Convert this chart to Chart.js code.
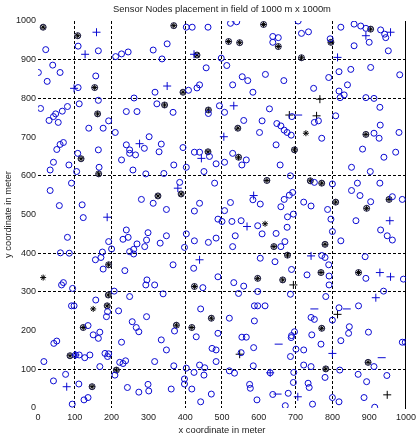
<!DOCTYPE html>
<html><head><meta charset="utf-8">
<script src="https://cdn.jsdelivr.net/npm/chart.js@4"></script>
<style>html,body{margin:0;padding:0;background:#fff}canvas{display:block}</style>
</head><body>
<canvas id="c" width="420" height="440"></canvas>
<script>
const titleText = 'Sensor Nodes placement in field of 1000 m x 1000m';
const xLabel = 'x coordinate in meter';
const yLabel = 'y coordinate in meter';
const axisMin = 0, axisMax = 1000, tickStep = 100;
const visibleGridX = [100, 200, 400, 500, 700, 800];
const visibleGridY = [100, 300, 400, 600, 800, 900];

const blueCircles = [
[403,984],[419,984],[462,984],[21,926],[109,935],[164,923],[211,908],[227,915],[245,920],[313,925],[351,941],[337,902],[40,886],[1,867],[60,867],[25,844],[157,858],[457,879],[109,828],[318,816],[409,821],[432,827],[439,835],[261,801],[7,774],[112,786],[164,795],[323,786],[367,764],[463,761],[80,779],[66,767],[48,760],[42,753],[30,743],[55,738],[240,766],[269,766],[192,742],[177,723],[138,723],[210,712],[302,701],[289,671],[335,682],[329,662],[69,686],[60,681],[51,668],[240,680],[249,667],[394,673],[108,658],[164,667],[425,661],[439,661],
[42,635],[84,628],[33,615],[105,611],[166,622],[227,641],[249,658],[265,654],[258,615],[293,605],[342,606],[369,628],[403,622],[466,650],[451,611],[484,631],[91,581],[33,562],[385,583],[480,581],[281,539],[313,529],[349,513],[439,529],[425,509],[58,523],[120,525],[123,492],[489,488],[80,441],[192,430],[240,460],[231,436],[245,441],[299,453],[295,434],[290,417],[349,445],[332,426],[269,424],[260,410],[249,404],[260,398],[403,450],[398,415],[425,432],[463,428],[484,439],[61,401],[85,400],[175,403],[171,389],[156,383],[200,411],[177,359],[236,355],[367,370],[423,361],[489,339],[296,331],[293,318],[317,318],[64,318],[69,324],[94,309],[448,311],
[207,302],[249,288],[340,295],[157,279],[91,264],[98,264],[219,251],[186,236],[442,256],[295,236],[256,223],[267,208],[274,197],[136,213],[150,189],[168,196],[164,180],[51,173],[43,167],[227,170],[371,199],[430,184],[335,176],[349,150],[489,193],[473,154],[484,150],[102,137],[112,137],[127,130],[141,137],[182,141],[192,140],[189,133],[168,107],[222,118],[238,122],[231,115],[209,85],[317,120],[369,109],[403,103],[398,75],[398,62],[439,111],[453,104],[424,92],[451,85],[484,120],[16,120],[75,87],[42,70],[111,62],[243,53],[299,61],[301,44],[274,41],[362,49],[418,49],[471,36],[442,16],[136,27],[125,21],[93,10],[189,249],
[523,994],[540,998],[707,1000],[716,968],[735,972],[823,984],[859,992],[877,987],[891,981],[931,977],[942,966],[945,957],[900,945],[952,923],[638,960],[653,957],[638,945],[794,954],[859,936],[498,904],[513,885],[818,869],[850,875],[904,880],[983,861],[555,856],[570,846],[618,862],[529,835],[668,846],[790,854],[749,826],[841,835],[818,819],[832,809],[821,802],[584,816],[493,781],[507,764],[891,802],[913,800],[929,777],[629,773],[559,743],[609,742],[690,753],[751,738],[762,742],[809,755],[649,735],[660,729],[669,718],[677,712],[688,705],[602,712],[771,697],[930,731],[981,712],[913,710],[927,697],[647,680],[882,669],[529,658],[972,661],
[566,641],[554,628],[507,635],[658,628],[940,648],[852,622],[903,611],[686,600],[751,583],[800,579],[868,581],[929,581],[852,562],[875,549],[584,538],[604,527],[692,557],[683,550],[669,539],[660,520],[722,532],[742,522],[904,533],[963,546],[990,539],[787,513],[523,531],[507,510],[694,501],[678,494],[796,488],[864,484],[500,482],[527,482],[552,484],[597,471],[677,467],[647,451],[609,450],[536,445],[529,417],[800,456],[823,432],[931,460],[949,445],[963,434],[671,430],[660,417],[604,387],[644,378],[771,394],[780,389],[790,370],[889,391],[689,358],[731,344],[791,341],[891,335],[993,333],[532,324],[559,315],[791,318],
[545,296],[597,301],[686,294],[782,288],[939,302],[588,264],[597,264],[617,264],[818,259],[871,264],[742,234],[751,229],[800,227],[520,232],[588,225],[846,210],[844,193],[898,196],[697,197],[689,187],[688,182],[744,189],[554,183],[566,183],[823,174],[769,165],[990,170],[998,170],[586,156],[701,152],[722,150],[552,143],[686,133],[913,107],[585,109],[722,111],[742,107],[820,98],[520,96],[534,90],[631,91],[695,92],[870,87],[948,84],[780,79],[893,68],[694,66],[734,64],[737,53],[575,61],[577,51],[638,35],[680,38],[800,27],[818,16],[886,27],[595,21],[672,6],[746,10],[915,2]
];

const blackMarked = [
[14,984],[108,962],[369,988],[432,912],[154,828],[394,816],[344,783],[463,770],[162,760],[462,662],[117,644],[165,605],[389,553],[326,548],[192,370],[425,314],[191,292],[188,264],[471,232],[123,208],[376,214],[418,208],[87,135],[213,98],[147,55],[613,991],[904,979],[518,947],[548,944],[653,934],[796,945],[716,905],[543,723],[891,707],[697,667],[545,648],[622,588],[740,587],[771,581],[809,532],[954,539],[893,516],[641,417],[780,423],[678,395],[597,335],[665,331],[769,350],[871,350],[771,206],[897,118],[782,101]
];

const blackPlus = [[683,757],[757,755],[766,798],[814,242],[548,139],[949,34],[694,318]];
const blackStar = [[14,337],[150,256],[728,710],[617,476]];

const bluePlus = [
[159,971],[128,914],[424,914],[98,826],[351,832],[276,683],[444,645],[380,568],[188,493],[439,383],[102,137],[78,55],[891,962],[958,971],[814,906],[532,781],[505,701],[586,549],[568,469],[956,484],[742,393],[929,350],[958,339],[918,285],[800,141],[631,91],[706,29]
];

const blueDash = [[751,256],[839,256],[934,130],[651,36],[654,165],[707,757]];

const toPts = a => a.map(([x, y]) => ({x, y}));
const FONT = "'Liberation Sans', Arial, sans-serif";
const BLUE = '#0a0ad2';
const BLACK = '#000';

function ds(arr, style, radius, color, width) {
  return {
    data: toPts(arr), xAxisID: 'x', yAxisID: 'y', showLine: false,
    pointStyle: style, pointRadius: radius, pointHoverRadius: radius,
    pointBorderColor: color, pointBackgroundColor: 'rgba(0,0,0,0)',
    pointBorderWidth: width
  };
}

const gridColor = (list) => (ctx) => (ctx.tick && list.includes(ctx.tick.value)) ? '#000' : 'rgba(0,0,0,0)';
const plainLabel = v => String(v);

new Chart(document.getElementById('c').getContext('2d'), {
  type: 'scatter',
  data: {
    datasets: [
      ds(blueCircles, 'circle', 3, BLUE, 1),
      ds(bluePlus, 'cross', 4, BLUE, 1),
      ds(blueDash, 'line', 4, BLUE, 1),
      ds(blackMarked, 'circle', 3, '#1a1a40', 1),
      ds(blackMarked, 'star', 3, BLACK, 1),
      ds(blackPlus, 'cross', 4, BLACK, 1),
      ds(blackStar, 'star', 3, BLACK, 1)
    ]
  },
  options: {
    responsive: false, animation: false, events: [],
    layout: {padding: 0},
    plugins: {legend: {display: false}, tooltip: {enabled: false}, title: {display: false}},
    scales: {
      x: {
        type: 'linear', position: 'bottom', min: axisMin, max: axisMax,
        afterFit: s => { s.height = 32; },
        ticks: {stepSize: tickStep, autoSkip: false, maxRotation: 0, padding: 4, color: '#222', font: {family: FONT, size: 9}, callback: plainLabel},
        grid: {drawTicks: false, lineWidth: 1, color: gridColor(visibleGridX)},
        border: {display: false, dash: [3, 2]},
        title: {display: true, text: xLabel, color: '#222', font: {family: FONT, size: 9.3}, padding: {top: 0, bottom: 4}}
      },
      y: {
        type: 'linear', position: 'left', min: axisMin, max: axisMax,
        afterFit: s => { s.width = 38; },
        ticks: {stepSize: tickStep, autoSkip: false, padding: 2, color: '#222', font: {family: FONT, size: 9}, callback: plainLabel},
        grid: {drawTicks: false, lineWidth: 1, color: gridColor(visibleGridY)},
        border: {display: false, dash: [3, 2]},
        title: {display: true, text: yLabel, color: '#222', font: {family: FONT, size: 9.3}, padding: {top: 3, bottom: 0}}
      },
      x2: {
        type: 'linear', position: 'top', min: axisMin, max: axisMax,
        afterFit: s => { s.height = 21; },
        ticks: {display: false}, grid: {display: false}, border: {display: false},
        title: {display: true, text: titleText, color: '#222', font: {family: FONT, size: 9.4}, padding: {top: 4, bottom: 0}}
      },
      y2: {
        type: 'linear', position: 'right', min: axisMin, max: axisMax,
        afterFit: s => { s.width = 13; },
        ticks: {display: false}, grid: {display: false},
        border: {display: true, color: '#000', width: 1}
      }
    }
  }
});
</script>
</body></html>
